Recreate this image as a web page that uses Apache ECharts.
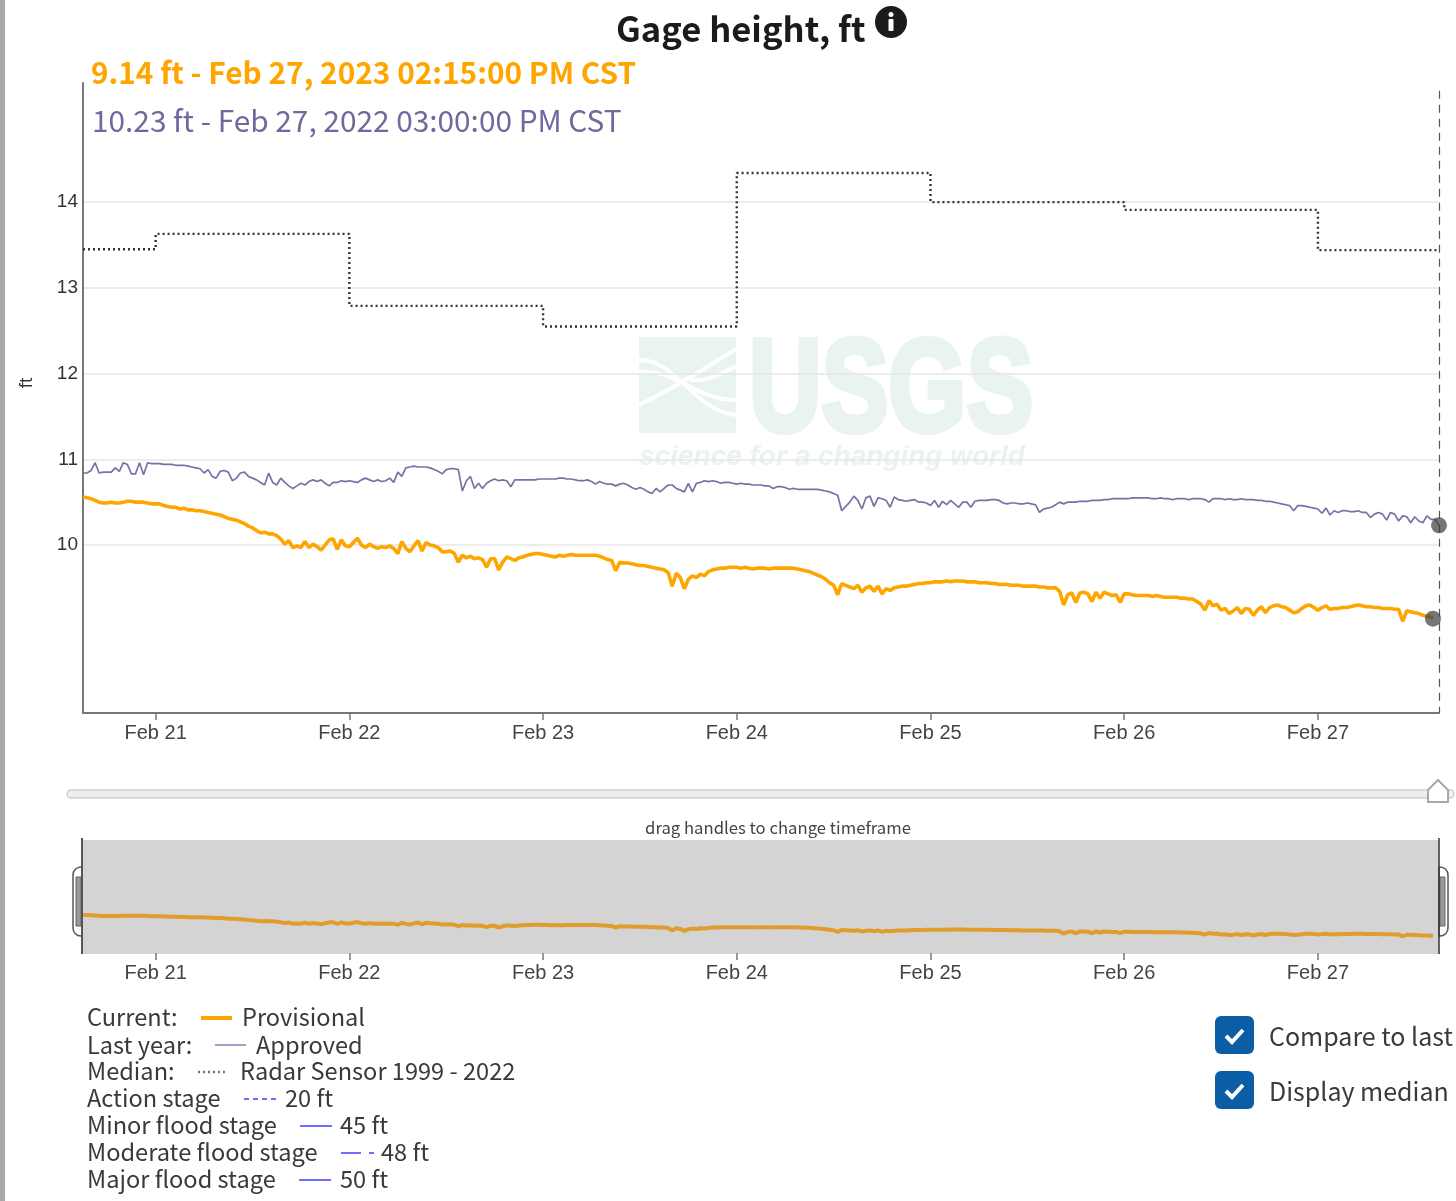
<!DOCTYPE html>
<html lang="en">
<head>
    <meta charset="UTF-8">
    <title>Gage height, ft</title>
    <script src="https://cdn.jsdelivr.net/npm/echarts@6/dist/echarts.min.js"></script>
    <style>
        html, body { margin: 0; padding: 0; background: #fff; }
        #chart { width: 1456px; height: 1201px; }
    </style>
</head>
<body>
    <div id="chart"></div>
    <script>
        // gage height every 30 min from Feb 20 15:00
        const currentValues = [
            10.56,10.55,10.54,10.52,10.50,10.49,10.49,10.50,10.49,10.49,10.50,10.51,10.51,10.50,10.50,10.50,10.49,10.48,
            // Feb 21
            10.48,10.48,10.46,10.45,10.44,10.44,10.42,10.43,10.41,10.41,10.40,10.40,
            10.39,10.38,10.37,10.36,10.35,10.33,10.31,10.30,10.29,10.27,10.25,10.22,
            10.20,10.17,10.14,10.15,10.13,10.13,10.11,10.07,10.01,10.05,9.97,9.99,
            9.97,10.04,9.97,10.01,9.98,9.94,10.00,10.06,10.07,9.95,10.06,9.99,
            // Feb 22
            9.98,10.03,10.08,10.00,9.97,10.01,9.98,9.96,9.98,9.97,9.99,9.96,
            9.90,10.04,9.96,9.92,9.99,10.05,9.93,10.03,10.00,9.99,9.97,9.92,
            9.92,9.93,9.90,9.80,9.88,9.85,9.87,9.84,9.85,9.83,9.74,9.84,
            9.84,9.71,9.80,9.86,9.84,9.82,9.85,9.86,9.88,9.89,9.90,9.90,
            // Feb 23
            9.89,9.88,9.87,9.86,9.88,9.87,9.88,9.89,9.88,9.88,9.88,9.88,
            9.88,9.88,9.87,9.85,9.83,9.82,9.70,9.80,9.79,9.79,9.78,9.77,
            9.76,9.76,9.75,9.74,9.73,9.72,9.71,9.68,9.52,9.67,9.62,9.49,
            9.60,9.64,9.62,9.66,9.64,9.69,9.71,9.72,9.73,9.73,9.74,9.74,
            // Feb 24
            9.74,9.73,9.74,9.73,9.72,9.73,9.73,9.73,9.72,9.73,9.73,9.73,
            9.73,9.73,9.73,9.72,9.71,9.70,9.69,9.67,9.65,9.63,9.60,9.56,
            9.53,9.42,9.55,9.53,9.51,9.49,9.53,9.45,9.50,9.52,9.46,9.52,
            9.43,9.49,9.47,9.50,9.51,9.52,9.52,9.53,9.54,9.55,9.55,9.56,
            // Feb 25
            9.56,9.57,9.57,9.57,9.58,9.57,9.58,9.58,9.58,9.57,9.57,9.57,
            9.56,9.56,9.56,9.55,9.55,9.54,9.54,9.54,9.53,9.53,9.53,9.52,
            9.52,9.52,9.52,9.51,9.51,9.50,9.50,9.50,9.46,9.30,9.42,9.44,
            9.33,9.44,9.45,9.43,9.34,9.45,9.38,9.45,9.43,9.41,9.42,9.33,
            // Feb 26
            9.43,9.43,9.42,9.41,9.41,9.41,9.41,9.40,9.41,9.40,9.39,9.39,
            9.39,9.39,9.38,9.38,9.37,9.37,9.34,9.31,9.24,9.35,9.29,9.31,
            9.24,9.26,9.20,9.23,9.27,9.20,9.26,9.25,9.18,9.24,9.28,9.21,
            9.27,9.29,9.30,9.28,9.27,9.24,9.21,9.22,9.26,9.29,9.30,9.27,
            // Feb 27
            9.24,9.27,9.29,9.25,9.26,9.26,9.27,9.27,9.28,9.29,9.30,9.29,
            9.28,9.28,9.27,9.27,9.26,9.26,9.26,9.25,9.25,9.11,9.23,9.22,
            9.21,9.20,9.18,9.17,9.16
        ];
        const currentLast = ['2023-02-27 14:15', 9.14];

        const lastYearValues = [
            10.84,10.84,10.87,10.96,10.84,10.85,10.85,10.85,10.90,10.86,10.96,10.94,10.83,10.83,10.96,10.82,10.96,10.95,
            // Feb 21
            10.95,10.95,10.94,10.94,10.94,10.93,10.93,10.93,10.92,10.91,10.90,10.89,
            10.84,10.88,10.80,10.78,10.86,10.87,10.85,10.75,10.78,10.84,10.85,10.80,
            10.78,10.76,10.73,10.70,10.84,10.73,10.70,10.78,10.73,10.69,10.66,10.69,
            10.72,10.70,10.74,10.76,10.74,10.76,10.72,10.69,10.73,10.73,10.75,10.74,
            // Feb 22
            10.75,10.74,10.73,10.76,10.78,10.76,10.74,10.76,10.74,10.75,10.78,10.73,
            10.85,10.80,10.90,10.91,10.92,10.91,10.91,10.91,10.90,10.88,10.86,10.83,
            10.88,10.89,10.89,10.88,10.63,10.75,10.80,10.66,10.72,10.66,10.72,10.75,
            10.77,10.75,10.76,10.75,10.68,10.76,10.76,10.76,10.76,10.76,10.76,10.77,
            // Feb 23
            10.77,10.77,10.77,10.77,10.78,10.78,10.77,10.77,10.76,10.75,10.75,10.76,
            10.74,10.71,10.74,10.72,10.71,10.71,10.69,10.71,10.72,10.70,10.67,10.65,
            10.67,10.65,10.62,10.60,10.66,10.62,10.66,10.70,10.70,10.66,10.64,10.62,
            10.72,10.62,10.72,10.73,10.75,10.74,10.75,10.74,10.72,10.73,10.73,10.72,
            // Feb 24
            10.71,10.72,10.71,10.71,10.70,10.70,10.70,10.69,10.69,10.66,10.68,10.68,
            10.67,10.65,10.66,10.65,10.65,10.65,10.65,10.65,10.65,10.64,10.63,10.62,
            10.60,10.58,10.40,10.45,10.50,10.57,10.52,10.42,10.55,10.57,10.45,10.55,
            10.54,10.52,10.44,10.56,10.53,10.52,10.51,10.52,10.53,10.50,10.50,10.49,
            // Feb 25
            10.46,10.52,10.44,10.51,10.47,10.52,10.48,10.44,10.50,10.50,10.44,10.51,
            10.52,10.52,10.52,10.53,10.53,10.52,10.49,10.48,10.49,10.49,10.48,10.48,
            10.49,10.48,10.47,10.38,10.42,10.43,10.44,10.47,10.50,10.48,10.50,10.50,
            10.50,10.51,10.51,10.51,10.52,10.52,10.52,10.53,10.53,10.54,10.54,10.54,
            // Feb 26
            10.54,10.54,10.55,10.55,10.55,10.55,10.55,10.54,10.54,10.55,10.54,10.54,
            10.53,10.54,10.54,10.54,10.53,10.54,10.54,10.54,10.53,10.50,10.54,10.54,
            10.54,10.53,10.54,10.53,10.53,10.54,10.53,10.53,10.53,10.52,10.52,10.51,
            10.51,10.50,10.49,10.48,10.47,10.46,10.40,10.46,10.46,10.45,10.44,10.43,
            // Feb 27
            10.42,10.37,10.43,10.35,10.40,10.38,10.40,10.40,10.39,10.39,10.40,10.38,
            10.38,10.32,10.36,10.38,10.36,10.29,10.38,10.36,10.28,10.34,10.33,10.26,
            10.33,10.28,10.26,10.34,10.30,10.30,10.23
        ];

        const medianDates = ['2023-02-20 15:00','2023-02-21 00:00','2023-02-22 00:00','2023-02-23 00:00','2023-02-24 00:00','2023-02-25 00:00','2023-02-26 00:00','2023-02-27 00:00','2023-02-27 15:00'];
        const medianValues = [13.45,13.63,12.79,12.55,14.34,14.0,13.91,13.44,13.44];

        const yTicks = [10, 11, 12, 13, 14];
        const legendRows = [
            ['Current:', 'Provisional'],
            ['Last year:', 'Approved'],
            ['Median:', 'Radar Sensor 1999 - 2022'],
            ['Action stage', '20 ft'],
            ['Minor flood stage', '45 ft'],
            ['Moderate flood stage', '48 ft'],
            ['Major flood stage', '50 ft']
        ];

        const START = new Date(2023, 1, 20, 15).getTime();
        const END = new Date(2023, 1, 27, 15).getTime();
        const STEP = 30 * 60 * 1000;
        const toTime = s => {
            const [d, t] = s.split(' ');
            const [yy, mm, dd] = d.split('-').map(Number);
            const [h, m] = t.split(':').map(Number);
            return new Date(yy, mm - 1, dd, h, m).getTime();
        };

        const currentData = currentValues.map((v, i) => [START + i * STEP, v]);
        currentData.push([toTime(currentLast[0]), currentLast[1]]);
        const lastYearData = lastYearValues.map((v, i) => [START + i * STEP, v]);
        const medianData = medianDates.map((d, i) => [toTime(d), medianValues[i]]);

        const SANS = '"Noto Sans CJK SC", "Noto Sans", sans-serif';
        const ARIAL = '"Liberation Sans", Arial, sans-serif';
        const ORANGE = '#ffa500';
        const PURPLE = '#7d6fa6';
        const WATER = '#e9f3f0';
        const BLUE = '#6f6fff';

        function txt(x, y, text, size, color, extra) {
            return {
                type: 'text', x: x, y: y, silent: true,
                style: Object.assign({
                    text: text, font: size + 'px ' + SANS, fill: color,
                    textAlign: 'left', textVerticalAlign: 'middle'
                }, extra || {})
            };
        }
        function seg(x1, y, x2, color, width, dash) {
            return {
                type: 'line', silent: true,
                shape: { x1: x1, y1: y, x2: x2, y2: y },
                style: { stroke: color, lineWidth: width, lineDash: dash || null }
            };
        }
        function wave(x1, y1, cx1, cy1, cx2, cy2, x2, y2) {
            return {
                type: 'bezierCurve', silent: true, z: -1,
                shape: { x1: x1, y1: y1, cpx1: cx1, cpy1: cy1, cpx2: cx2, cpy2: cy2, x2: x2, y2: y2 },
                style: { stroke: '#fff', lineWidth: 4, fill: null }
            };
        }
        function checkbox(y) {
            return [
                { type: 'rect', silent: true, shape: { x: 1215, y: y, width: 39, height: 38, r: 6 }, style: { fill: '#0b5ea6' } },
                { type: 'polyline', silent: true, shape: { points: [[1226, y + 20], [1232, y + 26], [1243, y + 14]] }, style: { stroke: '#fff', lineWidth: 4, fill: null } }
            ];
        }

        const legendX = [242, 256, 240, 285, 340, 381, 340];
        const legendY = [1017, 1045, 1071, 1098, 1125, 1152, 1179];
        const legendGraphics = [];
        legendRows.forEach((r, i) => {
            legendGraphics.push(txt(87, legendY[i], r[0], 23.6, '#3a3a3a'));
            legendGraphics.push(txt(legendX[i], legendY[i], r[1], 23.6, '#3a3a3a'));
        });

        const graphics = [
            // grey strip at the left edge
            { type: 'rect', silent: true, shape: { x: 0, y: 0, width: 5, height: 1201 }, style: { fill: '#a8a8a8' } },

            // USGS watermark
            { type: 'rect', silent: true, z: -2, shape: { x: 639, y: 337, width: 97, height: 96 }, style: { fill: WATER } },
            wave(736, 349, 705, 368, 680, 385, 639, 405),
            wave(639, 360, 675, 358, 695, 412, 736, 415),
            wave(639, 372, 675, 368, 695, 400, 736, 400),
            wave(690, 380, 705, 382, 720, 375, 736, 366),
            {
                type: 'text', silent: true, z: -1, x: 749, y: 395, scaleX: 0.76,
                style: { text: 'USGS', font: 'bold 132px ' + ARIAL, fill: WATER, stroke: WATER, lineWidth: 6, textAlign: 'left', textVerticalAlign: 'middle' }
            },
            {
                type: 'text', silent: true, z: -1, x: 639, y: 457,
                style: { text: 'science for a changing world', font: 'italic bold 28px ' + ARIAL, fill: WATER, textAlign: 'left', textVerticalAlign: 'middle' }
            },

            // title and read-outs
            txt(616, 29, 'Gage height, ft', 34.6, '#1b1b1b', { font: 'bold 34.6px ' + SANS }),
            { type: 'circle', silent: true, shape: { cx: 891, cy: 22, r: 16 }, style: { fill: '#1b1b1b' } },
            { type: 'circle', silent: true, shape: { cx: 891, cy: 14.5, r: 2.5 }, style: { fill: '#fff' } },
            { type: 'rect', silent: true, shape: { x: 888.5, y: 19, width: 5, height: 12, r: 1 }, style: { fill: '#fff' } },
            txt(91, 73, '9.14 ft - Feb 27, 2023 02:15:00 PM CST', 29.8, ORANGE, { font: 'bold 29.8px ' + SANS }),
            txt(92, 121, '10.23 ft - Feb 27, 2022 03:00:00 PM CST', 29.8, '#6f6a9e'),
            { type: 'text', silent: true, x: 27, y: 383, rotation: Math.PI / 2, style: { text: 'ft', font: '19px ' + ARIAL, fill: '#333', textAlign: 'center', textVerticalAlign: 'middle' } },

            // range slider
            { type: 'circle', silent: true, shape: { cx: 1450, cy: 794, r: 4 }, style: { fill: '#f2f2f2', stroke: '#ccc', lineWidth: 1.5 } },
            { type: 'rect', silent: true, shape: { x: 67, y: 790, width: 1380, height: 8, r: 4 }, style: { fill: '#eeeeee', stroke: '#cfcfcf', lineWidth: 1.5 } },
            { type: 'polygon', silent: true, shape: { points: [[1428, 790], [1438, 780], [1448, 790], [1448, 802], [1428, 802]] }, style: { fill: '#fff', stroke: '#a8a8a8', lineWidth: 2 } },
            txt(778, 828, 'drag handles to change timeframe', 16.7, '#444', { textAlign: 'center' }),

            // brush handles
            { type: 'rect', silent: true, z: 5, shape: { x: 73, y: 867, width: 9, height: 69, r: [8, 0, 0, 8] }, style: { fill: '#fff', stroke: '#555', lineWidth: 1.5 } },
            { type: 'rect', silent: true, z: 5, shape: { x: 76, y: 877, width: 5, height: 49 }, style: { fill: '#999', stroke: '#666', lineWidth: 1 } },
            { type: 'rect', silent: true, z: 5, shape: { x: 1439, y: 867, width: 9, height: 69, r: [0, 8, 8, 0] }, style: { fill: '#fff', stroke: '#555', lineWidth: 1.5 } },
            { type: 'rect', silent: true, z: 5, shape: { x: 1440, y: 877, width: 5, height: 49 }, style: { fill: '#999', stroke: '#666', lineWidth: 1 } },
            { type: 'line', silent: true, z: 6, shape: { x1: 82, y1: 838, x2: 82, y2: 954 }, style: { stroke: '#555', lineWidth: 2 } },
            { type: 'line', silent: true, z: 6, shape: { x1: 1439, y1: 838, x2: 1439, y2: 954 }, style: { stroke: '#333', lineWidth: 1.5 } },

            // legend swatches
            seg(201, 1018, 232, ORANGE, 4),
            seg(215, 1045, 246, '#a79fc5', 2),
            seg(198, 1072, 226, '#777', 2.4, [2, 3]),
            seg(244, 1099, 276, BLUE, 2, [5, 4]),
            seg(300, 1126, 332, BLUE, 2),
            seg(341, 1153, 374, BLUE, 2, [20, 8, 5, 8]),
            seg(299, 1180, 331, BLUE, 2),

            // checkboxes
            ...checkbox(1016),
            txt(1269, 1036, 'Compare to last', 25, '#3a3a3a'),
            ...checkbox(1071),
            txt(1269, 1091, 'Display median', 25, '#3a3a3a')
        ].concat(legendGraphics);

        const timeAxis = gridIndex => ({
            type: 'time',
            gridIndex: gridIndex,
            min: START,
            max: END,
            minInterval: 24 * 3600 * 1000,
            maxInterval: 24 * 3600 * 1000,
            axisLine: { onZero: false, lineStyle: { color: gridIndex ? '#d4d4d4' : '#777', width: 2 } },
            axisTick: { length: 7, lineStyle: { color: '#777', width: 1.5 } },
            axisLabel: { color: '#444', fontSize: 20, fontFamily: ARIAL, margin: 10, formatter: '{MMM} {d}', showMinLabel: false, showMaxLabel: false, hideOverlap: false },
            splitLine: { show: false }
        });

        const chart = echarts.init(document.getElementById('chart'), null, { renderer: 'canvas' });
        chart.setOption({
            animation: false,
            backgroundColor: '#fff',
            graphic: { elements: graphics },
            grid: [
                { left: 83, top: 83, width: 1356, height: 630 },
                { left: 83, top: 840, width: 1356, height: 113, show: true, backgroundColor: '#d4d4d4', borderWidth: 0 }
            ],
            xAxis: [timeAxis(0), timeAxis(1)],
            yAxis: [
                {
                    type: 'value', gridIndex: 0, min: 8.04, max: 15.39,
                    axisLine: { show: true, lineStyle: { color: '#777', width: 2 } },
                    axisTick: { show: false, customValues: yTicks },
                    axisLabel: { color: '#333', fontSize: 19, fontFamily: ARIAL, margin: 5, customValues: yTicks },
                    splitLine: { show: true, lineStyle: { color: '#e6e6e6', width: 1.5 } }
                },
                { type: 'value', gridIndex: 1, min: 8, max: 15.6, show: false, splitLine: { show: false } }
            ],
            series: [
                {
                    name: 'Median', type: 'line', step: 'end', data: medianData, symbol: 'none',
                    lineStyle: { color: '#333', width: 2.4, type: [2, 3] }
                },
                {
                    name: 'Last year', type: 'line', data: lastYearData, symbol: 'none',
                    lineStyle: { color: PURPLE, width: 1.7 },
                    markLine: {
                        silent: true, symbol: 'none', label: { show: false },
                        lineStyle: { color: '#555', width: 1.2, type: [8, 6] },
                        data: [[{ coord: [END, 15.3] }, { coord: [END, 8.04] }]]
                    }
                },
                {
                    name: 'Current', type: 'line', data: currentData, symbol: 'none',
                    lineStyle: { color: ORANGE, width: 3.6 }
                },
                {
                    name: 'Focus', type: 'scatter', clip: false, symbolSize: 16, z: 5,
                    data: [currentData[currentData.length - 1], lastYearData[lastYearData.length - 1]],
                    itemStyle: { color: 'rgba(60,60,60,0.88)' }
                },
                {
                    name: 'Overview', type: 'line', xAxisIndex: 1, yAxisIndex: 1, data: currentData, symbol: 'none',
                    lineStyle: { color: '#e09c2c', width: 4 }
                }
            ]
        });
        window.addEventListener('resize', () => chart.resize());
    </script>
</body>
</html>
